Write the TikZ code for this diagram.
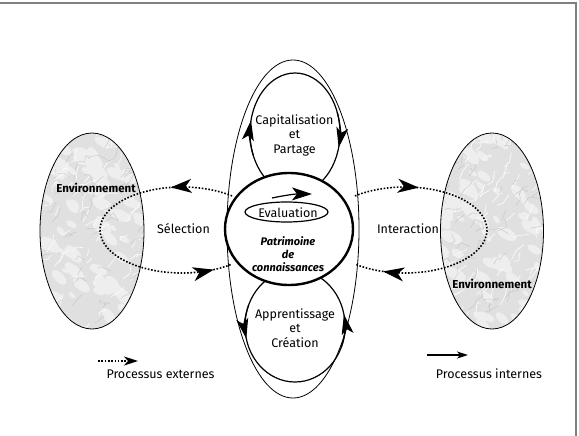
\documentclass[tikz,border=0pt]{standalone}
\usepackage{fontspec}
\setmainfont{Fira Sans}
\usetikzlibrary{arrows.meta,decorations.markings}
\definecolor{frameg}{HTML}{808080}
\definecolor{marblebase}{HTML}{E0E0E0}
\definecolor{marblepatch}{HTML}{EEEEEE}
\definecolor{marblevein}{HTML}{FAFAFA}
\definecolor{marbledark}{HTML}{BEBEBE}
\newcommand\mymarble[5]{%
  \begin{scope}
    \clip (#1,#2) ellipse [x radius=#3, y radius=#4];
    \fill[marblebase] (#1-#3,#2-#4) rectangle (#1+#3,#2+#4);
    \pgfmathsetseed{#5}
    \foreach \i in {1,...,80}{
      \pgfmathsetmacro\xa{#1-#3+2*#3*rnd}
      \pgfmathsetmacro\ya{#2-#4+2*#4*rnd}
      \pgfmathsetmacro\ra{4+8*rnd}
      \pgfmathsetmacro\rr{-(20+40*rnd)}
      \fill[marblepatch, rotate around={\rr:(\xa,\ya)}] (\xa,\ya) ellipse [x radius=\ra, y radius=.5*\ra];
    }
    \foreach \i in {1,...,70}{
      \pgfmathsetmacro\xa{#1-#3+2*#3*rnd}
      \pgfmathsetmacro\ya{#2-#4+2*#4*rnd}
      \pgfmathsetmacro\la{3+8*rnd}
      \pgfmathsetmacro\lb{3+8*rnd}
      \pgfmathsetmacro\aa{-(0+90*rnd)}
      \pgfmathsetmacro\ab{-(0+90*rnd)}
      \draw[marblevein, line width=.7pt, line cap=round, line join=round]
        (\xa,\ya) -- ++(\aa:\la) -- ++(\ab:\lb);
    }
    \foreach \i in {1,...,60}{
      \pgfmathsetmacro\xa{#1-#3+2*#3*rnd}
      \pgfmathsetmacro\ya{#2-#4+2*#4*rnd}
      \pgfmathsetmacro\la{3+8*rnd}
      \pgfmathsetmacro\lb{3+8*rnd}
      \pgfmathsetmacro\aa{-(0+90*rnd)}
      \pgfmathsetmacro\ab{60-180*rnd}
      \draw[marbledark, line width=.3pt, line cap=round, line join=round]
        (\xa,\ya) -- ++(\aa:\la) -- ++(\ab:\lb);
    }
  \end{scope}
  \draw[line width=.8pt] (#1,#2) ellipse [x radius=#3, y radius=#4];}
\tikzset{
  lbl/.style={font=\fontsize{12.5}{14.5}\selectfont, inner sep=0pt, align=center},
  envlbl/.style={font=\fontsize{11.5}{13}\selectfont\bfseries, inner sep=0pt},
  patlbl/.style={font=\fontsize{11}{13}\selectfont\bfseries\itshape, inner sep=0pt, align=center},
  thinline/.style={line width=.8pt},
  loopline/.style={line width=1.2pt},
  bighead/.style={-{Stealth[length=20pt, width=12pt, inset=5pt]}},
  dotline/.style={line width=1.6pt, dash pattern=on 1.6pt off 1.7pt},
  dothead/.tip={Stealth[length=21pt, width=14pt, inset=6pt]},
}
\begin{document}
\begin{tikzpicture}[x=1pt, y=-1pt]
\useasboundingbox (0,0) rectangle (579,436);
% frame
\draw[frameg, line width=2pt] (0,3) -- (576,3) -- (576,436);

% outer ellipse
\draw[thinline] (293,229) ellipse [x radius=66, y radius=169];

% loops
\draw[loopline] (295,133) ellipse [x radius=45, y radius=60];
\draw[loopline] (295,326) ellipse [x radius=50, y radius=56];
% loop arrowheads
\draw[loopline, bighead] (295,133) ++(158:45 and 60) arc[start angle=158, end angle=192, x radius=45, y radius=60];
\draw[loopline, bighead] (295,133) ++(-20:45 and 60) arc[start angle=-20, end angle=14, x radius=45, y radius=60];
\draw[loopline, bighead] (295,326) ++(202:50 and 56) arc[start angle=202, end angle=167, x radius=50, y radius=56];
\draw[loopline, bighead] (295,326) ++(22:50 and 56) arc[start angle=22, end angle=-12, x radius=50, y radius=56];

% main circle
\draw[line width=2.4pt, fill=white] (289,229) ellipse [x radius=64, y radius=56];

% evaluation
\draw[loopline] (286.5,212) ellipse [x radius=41.5, y radius=10];
\node[lbl] (eval) at (288,212.5) {Evaluation};
\coordinate (ea) at (272,198);
\coordinate (eb) at (312,194);
\draw[loopline, -{Stealth[length=20pt, width=13pt, inset=5pt]}] (ea) to[bend left=6] (eb);
\node[patlbl] (pat) at (288,254) {Patrimoine\\de\\connaissances};

\node[lbl] (cap) at (294.5,135) {Capitalisation\\et\\Partage};
\node[lbl] (app) at (295,328) {Apprentissage\\et\\Création};

\node[lbl] (sel) at (183.5,229) {Sélection};
\node[lbl] (inter) at (408,229) {Interaction};

% environments
\mymarble{92}{231}{52}{98}{11}
\mymarble{492}{231}{51.5}{98}{23}
\node[envlbl] (envl) at (96,188) {Environnement};
\node[envlbl] (envr) at (492,284) {Environnement};

% external processes (dotted loops)
\draw[dotline, decoration={markings,
   mark=at position 0.206 with {\arrow{dothead}},
   mark=at position 0.937 with {\arrow{dothead}}}, postaction={decorate}]
  (182,230) ++(-52.4:82 and 43) arc[start angle=-52.4, end angle=-307.6, x radius=82, y radius=43];
\draw[dotline, decoration={markings,
   mark=at position 0.214 with {\arrow{dothead}},
   mark=at position 0.904 with {\arrow{dothead}}}, postaction={decorate}]
  (405,230) ++(-127.6:82 and 43) arc[start angle=-127.6, end angle=127.6, x radius=82, y radius=43];

% legend
\coordinate (la) at (98,361);
\coordinate (lb) at (138,361);
\draw[dotline, -{Stealth[length=14pt, width=9pt, inset=4pt]}] (la) -- (lb);
\node[lbl] (lext) at (160.5,374) {Processus externes};
\coordinate (lc) at (427,355);
\coordinate (ld) at (468,355);
\draw[loopline, -{Stealth[length=11pt, width=7pt, inset=3pt]}] (lc) -- (ld);
\node[lbl] (lint) at (489,374) {Processus internes};
\end{tikzpicture}
\end{document}
